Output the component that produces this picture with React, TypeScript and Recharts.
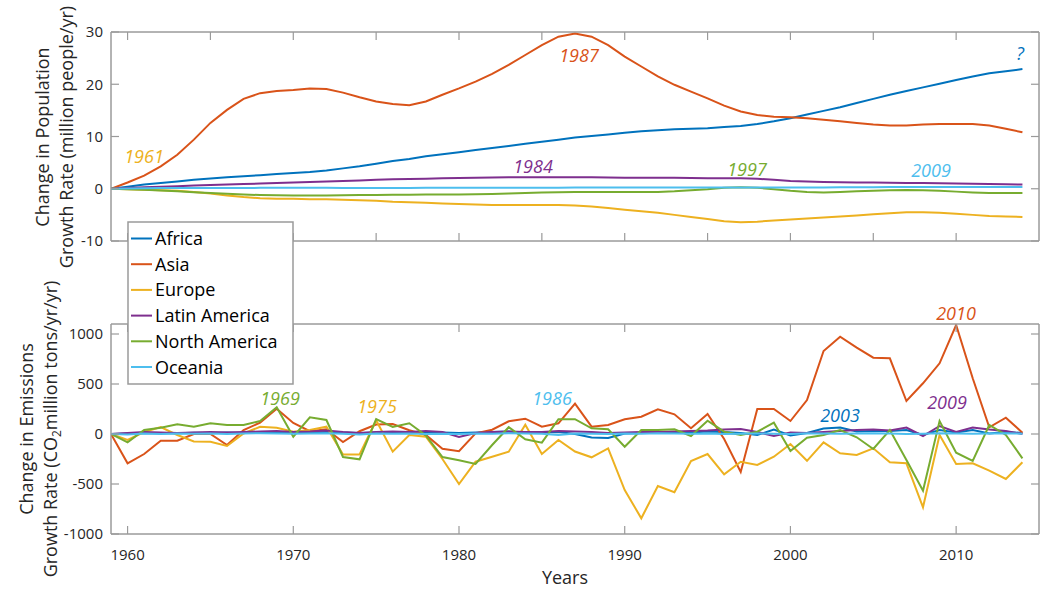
import { LineChart, Line, XAxis, YAxis, ReferenceArea } from 'recharts'

const FONT = '"Open Sans", sans-serif'
const TEXT = '#262626'
const BOX = '#9a9a9a'

const years = [
  1959, 1960, 1961, 1962, 1963, 1964, 1965, 1966, 1967, 1968,
  1969, 1970, 1971, 1972, 1973, 1974, 1975, 1976, 1977, 1978,
  1979, 1980, 1981, 1982, 1983, 1984, 1985, 1986, 1987, 1988,
  1989, 1990, 1991, 1992, 1993, 1994, 1995, 1996, 1997, 1998,
  1999, 2000, 2001, 2002, 2003, 2004, 2005, 2006, 2007, 2008,
  2009, 2010, 2011, 2012, 2013, 2014
]

// population growth rate change (million people/yr)
const popAfrica = [
  0, 0.4, 0.8, 1.1, 1.4, 1.7, 1.95, 2.2, 2.4, 2.6,
  2.8, 3.0, 3.2, 3.5, 3.9, 4.3, 4.8, 5.3, 5.7, 6.2,
  6.6, 7.0, 7.4, 7.8, 8.2, 8.6, 9.0, 9.4, 9.8, 10.1,
  10.4, 10.7, 11.0, 11.2, 11.4, 11.5, 11.6, 11.8, 12.0, 12.4,
  12.9, 13.5, 14.2, 14.9, 15.6, 16.4, 17.2, 18.0, 18.7, 19.4,
  20.1, 20.8, 21.5, 22.1, 22.5, 22.9
]
const popAsia = [
  0, 1.2, 2.5, 4.3, 6.5, 9.4, 12.6, 15.1, 17.2, 18.3,
  18.7, 18.9, 19.2, 19.1, 18.4, 17.5, 16.7, 16.2, 16.0, 16.7,
  18.0, 19.2, 20.5, 22.0, 23.7, 25.6, 27.5, 29.1, 29.7, 29.1,
  27.5, 25.3, 23.4, 21.5, 19.9, 18.6, 17.3, 15.9, 14.8, 14.1,
  13.8, 13.7, 13.5, 13.2, 12.9, 12.6, 12.3, 12.1, 12.1, 12.3,
  12.4, 12.4, 12.4, 12.1, 11.5, 10.8
]
const popEurope = [
  0, -0.1, -0.2, -0.3, -0.4, -0.6, -0.9, -1.3, -1.6, -1.8,
  -1.9, -1.9, -2.0, -2.0, -2.1, -2.2, -2.3, -2.5, -2.6, -2.7,
  -2.8, -2.9, -3.0, -3.1, -3.1, -3.1, -3.1, -3.1, -3.2, -3.4,
  -3.7, -4.0, -4.3, -4.6, -5.0, -5.4, -5.8, -6.2, -6.4, -6.3,
  -6.1, -5.9, -5.7, -5.5, -5.3, -5.1, -4.9, -4.7, -4.5, -4.5,
  -4.6, -4.8, -5.0, -5.2, -5.3, -5.4
]
const popLatAm = [
  0, 0.15, 0.3, 0.4, 0.5, 0.6, 0.7, 0.8, 0.9, 1.0,
  1.1, 1.2, 1.3, 1.4, 1.5, 1.6, 1.7, 1.8, 1.85, 1.9,
  2.0, 2.05, 2.1, 2.15, 2.2, 2.2, 2.2, 2.2, 2.2, 2.2,
  2.15, 2.1, 2.1, 2.1, 2.1, 2.05, 2.0, 2.0, 2.0, 1.9,
  1.7, 1.5, 1.4, 1.3, 1.25, 1.2, 1.2, 1.15, 1.1, 1.1,
  1.05, 1.0, 0.95, 0.9, 0.85, 0.8
]
const popNorthAm = [
  0, -0.1, -0.2, -0.35, -0.5, -0.65, -0.8, -0.95, -1.1, -1.2,
  -1.25, -1.3, -1.3, -1.3, -1.25, -1.2, -1.2, -1.15, -1.15, -1.1,
  -1.1, -1.1, -1.05, -1.0, -0.9, -0.8, -0.7, -0.65, -0.6, -0.6,
  -0.6, -0.6, -0.6, -0.6, -0.5, -0.3, -0.1, 0.2, 0.3, 0.2,
  -0.1, -0.4, -0.6, -0.7, -0.6, -0.5, -0.4, -0.3, -0.25, -0.3,
  -0.4, -0.55, -0.7, -0.8, -0.8, -0.8
]
const popOceania = [
  0, 0.05, 0.1, 0.12, 0.14, 0.15, 0.15, 0.16, 0.16, 0.17,
  0.17, 0.17, 0.17, 0.17, 0.16, 0.15, 0.15, 0.15, 0.16, 0.17,
  0.18, 0.18, 0.19, 0.19, 0.2, 0.2, 0.2, 0.21, 0.22, 0.23,
  0.23, 0.22, 0.22, 0.22, 0.22, 0.22, 0.23, 0.24, 0.24, 0.24,
  0.24, 0.24, 0.25, 0.26, 0.27, 0.28, 0.3, 0.32, 0.34, 0.35,
  0.35, 0.35, 0.34, 0.33, 0.33, 0.33
]

// emissions growth rate change (CO2 million tons/yr/yr)
const emAfrica = [
  0, 5, 8, 10, 8, 12, 10, 15, 10, 15,
  20, 18, 15, 20, 15, 10, 15, 20, 15, 20,
  15, 10, 15, 20, 25, 10, 15, 20, 0, -35,
  -40, 5, 10, 15, 20, 15, 25, 20, 10, -10,
  45, -15, 10, 55, 65, 25, 30, 30, 40, -10,
  40, 15, 40, 5, 20, 10
]
const emAsia = [
  0, -293, -200, -67, -67, 0, 0, -110, 40, 113,
  252, 110, 28, 47, -80, 28, 95, 100, 37, -10,
  -147, -173, 7, 43, 127, 153, 73, 107, 303, 73,
  90, 147, 173, 247, 197, 57, 200, -50, -380, 250,
  250, 130, 340, 830, 973, 863, 763, 757, 330, 507,
  707, 1090, 557, 67, 163, 13
]
const emEurope = [
  0, -60, 20, 70, -10, -75, -77, -120, 5, 73,
  63, 23, 40, 73, -205, -205, 137, -177, -10, -27,
  -250, -500, -277, -227, -177, 93, -200, -60, -175, -233,
  -143, -560, -843, -520, -583, -270, -200, -403, -277, -310,
  -227, -100, -268, -83, -193, -210, -143, -283, -293, -733,
  -10, -300, -293, -367, -450, -283
]
const emLatAm = [
  0, 10, 20, 15, 10, 15, 20, 15, 20, 25,
  30, 20, 25, 35, 20, 10, 20, 25, 20, 30,
  20, -30, 10, 20, 25, 20, 20, 30, 25, 20,
  10, 15, 20, 20, 25, 30, 35, 45, 50, 20,
  -20, 15, 10, 20, 30, 40, 45, 35, 65, -20,
  80, 20, 65, 45, 30, 0
]
const emNorthAm = [
  0, -83, 40, 63, 97, 73, 107, 90, 90, 130,
  267, -27, 167, 140, -230, -253, 148, 70, 107, -15,
  -230, -263, -300, -110, 68, -53, -87, 148, 148, 57,
  47, -127, 40, 40, 47, -20, 133, 23, -10, 23,
  113, -170, -38, -10, 40, -33, -150, 40, -260, -567,
  130, -187, -270, 90, -10, -243
]
const emOceania = [
  0, -5, 5, 0, 5, 3, 5, 0, 5, 8,
  5, 3, 5, 8, 3, -5, 5, 3, 5, 0,
  3, 0, 5, 3, 8, 5, 3, -10, 5, 3,
  0, 5, 3, 8, 5, 3, 5, 0, 3, 5,
  3, 0, 8, 5, 3, 5, 8, 5, 0, 3,
  8, 5, 3, 5, 8, 3
]

const popTicks = [-10, 0, 10, 20, 30]
const emTicks = [-1000, -500, 0, 500, 1000]
const decadeTicks = [1960, 1970, 1980, 1990, 2000, 2010]
const fiveYearTicks = [1960, 1965, 1970, 1975, 1980, 1985, 1990, 1995, 2000, 2005, 2010]

const regions = [
  { key: 'africa', name: 'Africa', color: '#0072BD' },
  { key: 'asia', name: 'Asia', color: '#D95319' },
  { key: 'europe', name: 'Europe', color: '#EDB120' },
  { key: 'latam', name: 'Latin America', color: '#7E2F8E' },
  { key: 'northam', name: 'North America', color: '#77AC30' },
  { key: 'oceania', name: 'Oceania', color: '#4DBEEE' }
]

const popData = years.map((year, i) => ({
  year,
  africa: popAfrica[i],
  asia: popAsia[i],
  europe: popEurope[i],
  latam: popLatAm[i],
  northam: popNorthAm[i],
  oceania: popOceania[i]
}))

const emData = years.map((year, i) => ({
  year,
  africa: emAfrica[i],
  asia: emAsia[i],
  europe: emEurope[i],
  latam: emLatAm[i],
  northam: emNorthAm[i],
  oceania: emOceania[i]
}))

// italic year callouts, [text, colour, x, baseline]
const callouts: [string, string, number, number][] = [
  ['1961', '#EDB120', 144, 163],
  ['1984', '#7E2F8E', 533, 173],
  ['1987', '#D95319', 579, 62],
  ['1997', '#77AC30', 747, 176],
  ['2009', '#4DBEEE', 931, 177],
  ['?', '#0072BD', 1020, 60],
  ['1969', '#77AC30', 280, 405],
  ['1975', '#EDB120', 377, 413],
  ['1986', '#4DBEEE', 552, 405],
  ['2003', '#0072BD', 840, 422],
  ['2009', '#7E2F8E', 947, 409],
  ['2010', '#D95319', 956, 320]
]

const X_DOMAIN = [1959, 2015]
const WIDTH = 1045
const LEFT_W = 50
const TOP_H = 20
const RIGHT_W = 6
const TICK_LEN = 8

type PanelProps = {
  data: any[]
  top: number
  height: number
  margin: { top: number; right: number; bottom: number; left: number }
  yDomain: number[]
  yTicks: number[]
  xTicks: number[]
  topTicks: number[]
  showYearLabels: boolean
}

function Panel({ data, top, height, margin, yDomain, yTicks, xTicks, topTicks, showYearLabels }: PanelProps) {
  const bottomH = showYearLabels ? 30 : 1
  const plotTop = margin.top + TOP_H
  const plotBottom = height - margin.bottom - bottomH
  const plotLeft = margin.left + LEFT_W
  const plotRight = WIDTH - margin.right - RIGHT_W

  // each axis draws its own inward tick marks (MATLAB style box)
  const BottomTick = (props: any) => (
    <g>
      <line x1={props.x} x2={props.x} y1={plotBottom} y2={plotBottom - TICK_LEN} stroke={BOX} strokeWidth={1.2} />
      {showYearLabels && (
        <text x={props.x} y={plotBottom + 26} textAnchor="middle" fontSize={15} fill={TEXT} fontFamily={FONT}>
          {props.payload.value}
        </text>
      )}
    </g>
  )
  const TopTick = (props: any) => (
    <line x1={props.x} x2={props.x} y1={plotTop} y2={plotTop + TICK_LEN} stroke={BOX} strokeWidth={1.2} />
  )
  const LeftTick = (props: any) => (
    <g>
      <line x1={plotLeft} x2={plotLeft + TICK_LEN} y1={props.y} y2={props.y} stroke={BOX} strokeWidth={1.2} />
      <text x={props.x} y={props.y} dy="0.355em" textAnchor="end" fontSize={15} fill={TEXT} fontFamily={FONT}>
        {props.payload.value}
      </text>
    </g>
  )
  const RightTick = (props: any) => (
    <line x1={plotRight} x2={plotRight - TICK_LEN} y1={props.y} y2={props.y} stroke={BOX} strokeWidth={1.2} />
  )

  return (
    <div style={{ position: 'absolute', left: 0, top }}>
      <LineChart width={WIDTH} height={height} data={data} margin={margin}>
        <XAxis xAxisId="bottom" dataKey="year" type="number" domain={X_DOMAIN} allowDataOverflow
          ticks={xTicks} interval={0} height={bottomH} tickMargin={15}
          tickLine={false} axisLine={{ stroke: BOX }} tick={BottomTick} />
        <XAxis xAxisId="top" dataKey="year" type="number" domain={X_DOMAIN} allowDataOverflow
          orientation="top" ticks={topTicks} interval={0} height={TOP_H}
          tickLine={false} axisLine={{ stroke: BOX }} tick={TopTick} />
        <YAxis yAxisId="left" type="number" domain={yDomain} allowDataOverflow ticks={yTicks} interval={0}
          width={LEFT_W} tickSize={0} tickMargin={8} tickLine={false} axisLine={{ stroke: BOX }} tick={LeftTick} />
        <YAxis yAxisId="right" type="number" domain={yDomain} allowDataOverflow ticks={yTicks} interval={0}
          orientation="right" width={RIGHT_W} tickLine={false} axisLine={{ stroke: BOX }} tick={RightTick} />
        <ReferenceArea xAxisId="bottom" yAxisId="left" x1={X_DOMAIN[0]} x2={X_DOMAIN[1]}
          y1={yDomain[0]} y2={yDomain[1]} fill="none" stroke={BOX} strokeWidth={1} />
        {/* both x axes and both y axes share one domain; alternate series so every axis is in use */}
        {regions.map((r, i) => (
          <Line key={r.key} xAxisId={i % 2 ? 'top' : 'bottom'} yAxisId={i % 2 ? 'right' : 'left'}
            type="linear" dataKey={r.key} name={r.name}
            stroke={r.color} strokeWidth={2} dot={false} isAnimationActive={false} />
        ))}
      </LineChart>
    </div>
  )
}

export default function App() {
  return (
    <div style={{ position: 'absolute', left: 0, top: 0, width: WIDTH, height: 590, background: '#fff', fontFamily: FONT }}>
      <Panel data={popData} top={0} height={260} margin={{ top: 12, right: 0, bottom: 18, left: 61 }}
        yDomain={[-10, 30]} yTicks={popTicks} xTicks={fiveYearTicks} topTicks={fiveYearTicks}
        showYearLabels={false} />
      <Panel data={emData} top={300} height={290} margin={{ top: 4, right: 0, bottom: 26, left: 61 }}
        yDomain={[-1000, 1100]} yTicks={emTicks} xTicks={decadeTicks} topTicks={decadeTicks}
        showYearLabels={true} />

      <svg width={WIDTH} height={590} style={{ position: 'absolute', left: 0, top: 0, pointerEvents: 'none' }}
        fontFamily={FONT}>
        {/* axis titles */}
        <g fill={TEXT} fontSize={18} textAnchor="middle">
          <text x={49} y={137} transform="rotate(-90 49 137)">Change in Population</text>
          <text x={73} y={137} transform="rotate(-90 73 137)">Growth Rate (million people/yr)</text>
          <text x={33} y={429} transform="rotate(-90 33 429)">Change in Emissions</text>
          <text x={57} y={429} transform="rotate(-90 57 429)">
            Growth Rate (CO<tspan fontSize={12} dy={4}>2</tspan><tspan dy={-4}>million tons/yr/yr)</tspan>
          </text>
          <text x={565} y={584}>Years</text>
        </g>

        {callouts.map(([label, color, x, y], i) => (
          <text key={i} x={x} y={y} fill={color} fontSize={18} fontStyle="italic" textAnchor="middle">
            {label}
          </text>
        ))}

        {/* legend */}
        <rect x={128} y={222} width={165} height={162} fill="#fff" stroke={BOX} strokeWidth={1.5} />
        {regions.map((r, i) => (
          <g key={r.key}>
            <line x1={131} x2={152} y1={238.5 + i * 25.7} y2={238.5 + i * 25.7} stroke={r.color} strokeWidth={2} />
            <text x={155} y={245 + i * 25.7} fill="#000" fontSize={18}>{r.name}</text>
          </g>
        ))}
      </svg>
    </div>
  )
}
